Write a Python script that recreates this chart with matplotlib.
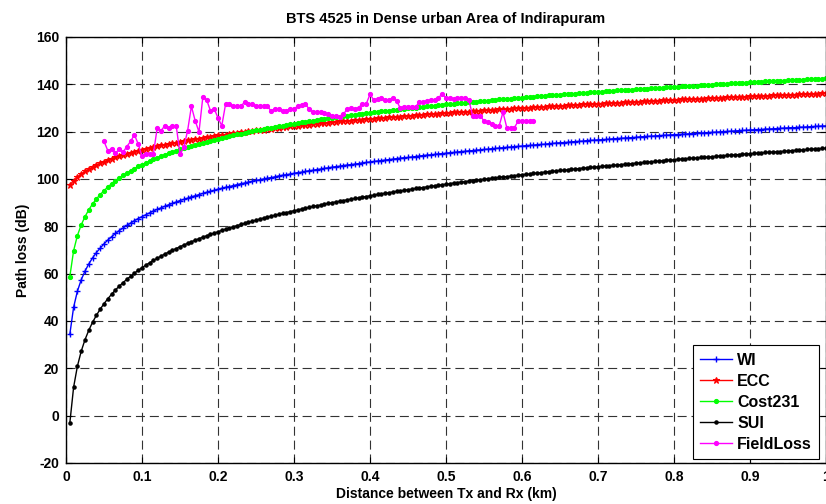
import numpy as np
import matplotlib
matplotlib.use("Agg")
import matplotlib.pyplot as plt

# Path loss curves, one value every 0.005 km (0.005 .. 1.0 km)
wi_loss = [
    34.3, 45.8, 52.6, 57.4, 61.1, 64.1, 66.7, 68.9, 70.8, 72.6,
    74.2, 75.6, 77.0, 78.2, 79.3, 80.4, 81.4, 82.4, 83.3, 84.1,
    84.9, 85.7, 86.5, 87.2, 87.8, 88.5, 89.1, 89.7, 90.3, 90.9,
    91.4, 91.9, 92.5, 92.9, 93.4, 93.9, 94.4, 94.8, 95.2, 95.7,
    96.1, 96.5, 96.8, 97.2, 97.6, 98.0, 98.3, 98.7, 99.0, 99.4,
    99.7, 100.0, 100.3, 100.6, 100.9, 101.3, 101.6, 101.8, 102.1, 102.4,
    102.7, 102.9, 103.2, 103.5, 103.7, 104.0, 104.2, 104.5, 104.7, 105.0,
    105.2, 105.4, 105.7, 105.9, 106.1, 106.3, 106.5, 106.8, 107.0, 107.2,
    107.4, 107.6, 107.8, 108.0, 108.2, 108.4, 108.6, 108.8, 109.0, 109.1,
    109.3, 109.5, 109.7, 109.9, 110.1, 110.2, 110.4, 110.6, 110.7, 110.9,
    111.1, 111.2, 111.4, 111.6, 111.7, 111.9, 112.0, 112.2, 112.3, 112.5,
    112.6, 112.8, 112.9, 113.1, 113.2, 113.4, 113.5, 113.7, 113.8, 113.9,
    114.1, 114.2, 114.3, 114.5, 114.6, 114.7, 114.9, 115.0, 115.2, 115.3,
    115.4, 115.5, 115.7, 115.8, 115.9, 116.0, 116.2, 116.3, 116.4, 116.5,
    116.6, 116.7, 116.8, 117.0, 117.1, 117.2, 117.3, 117.4, 117.5, 117.6,
    117.8, 117.9, 118.0, 118.1, 118.2, 118.3, 118.4, 118.5, 118.6, 118.7,
    118.8, 118.9, 119.0, 119.1, 119.2, 119.3, 119.4, 119.5, 119.6, 119.7,
    119.8, 119.9, 120.0, 120.1, 120.2, 120.3, 120.4, 120.5, 120.6, 120.7,
    120.8, 120.9, 120.9, 121.1, 121.1, 121.2, 121.3, 121.4, 121.5, 121.6,
    121.7, 121.7, 121.9, 121.9, 122.0, 122.1, 122.2, 122.3, 122.4, 122.4,
]

ecc_loss = [
    97.5, 99.3, 100.8, 102.1, 103.2, 104.1, 105.0, 105.8, 106.6, 107.3,
    107.9, 108.5, 109.1, 109.6, 110.1, 110.6, 111.0, 111.5, 111.9, 112.3,
    112.7, 113.1, 113.5, 113.8, 114.2, 114.5, 114.8, 115.1, 115.4, 115.7,
    116.0, 116.3, 116.6, 116.9, 117.1, 117.4, 117.6, 117.9, 118.1, 118.4,
    118.6, 118.8, 119.1, 119.3, 119.5, 119.7, 119.9, 120.1, 120.3, 120.5,
    120.7, 120.9, 121.1, 121.3, 121.5, 121.7, 121.8, 122.0, 122.2, 122.4,
    122.5, 122.7, 122.9, 123.0, 123.2, 123.4, 123.5, 123.7, 123.8, 124.0,
    124.1, 124.3, 124.4, 124.6, 124.7, 124.9, 125.0, 125.1, 125.3, 125.4,
    125.5, 125.7, 125.8, 125.9, 126.1, 126.2, 126.3, 126.4, 126.6, 126.7,
    126.8, 126.9, 127.1, 127.2, 127.3, 127.4, 127.5, 127.6, 127.8, 127.9,
    128.0, 128.1, 128.2, 128.3, 128.4, 128.5, 128.6, 128.8, 128.9, 129.0,
    129.1, 129.2, 129.3, 129.4, 129.5, 129.6, 129.7, 129.8, 129.9, 130.0,
    130.1, 130.2, 130.3, 130.4, 130.5, 130.5, 130.7, 130.7, 130.8, 130.9,
    131.0, 131.1, 131.2, 131.3, 131.4, 131.5, 131.6, 131.6, 131.7, 131.8,
    131.9, 132.0, 132.1, 132.1, 132.2, 132.3, 132.4, 132.5, 132.5, 132.6,
    132.7, 132.8, 132.9, 133.0, 133.0, 133.1, 133.2, 133.3, 133.3, 133.4,
    133.5, 133.6, 133.7, 133.7, 133.8, 133.9, 134.0, 134.0, 134.1, 134.2,
    134.3, 134.3, 134.4, 134.5, 134.5, 134.6, 134.7, 134.7, 134.8, 134.9,
    135.0, 135.0, 135.1, 135.2, 135.2, 135.3, 135.4, 135.4, 135.5, 135.6,
    135.6, 135.7, 135.8, 135.8, 135.9, 136.0, 136.0, 136.1, 136.2, 136.2,
]

cost231_loss = [
    58.7, 69.7, 76.1, 80.6, 84.1, 87.0, 89.5, 91.6, 93.4, 95.1,
    96.6, 98.0, 99.3, 100.4, 101.5, 102.5, 103.5, 104.4, 105.3, 106.1,
    106.8, 107.6, 108.3, 108.9, 109.6, 110.2, 110.8, 111.4, 111.9, 112.5,
    113.0, 113.5, 114.0, 114.4, 114.9, 115.3, 115.8, 116.2, 116.6, 117.0,
    117.4, 117.8, 118.1, 118.5, 118.9, 119.2, 119.6, 119.9, 120.2, 120.5,
    120.9, 121.2, 121.5, 121.7, 122.0, 122.3, 122.6, 122.9, 123.2, 123.4,
    123.7, 123.9, 124.2, 124.4, 124.7, 125.0, 125.2, 125.4, 125.6, 125.9,
    126.1, 126.3, 126.5, 126.7, 127.0, 127.2, 127.4, 127.6, 127.8, 128.0,
    128.1, 128.4, 128.6, 128.7, 128.9, 129.1, 129.3, 129.5, 129.6, 129.8,
    130.0, 130.2, 130.3, 130.5, 130.7, 130.8, 131.0, 131.2, 131.4, 131.5,
    131.6, 131.8, 132.0, 132.1, 132.3, 132.4, 132.6, 132.7, 132.9, 133.0,
    133.1, 133.3, 133.4, 133.6, 133.7, 133.8, 134.0, 134.1, 134.3, 134.4,
    134.5, 134.6, 134.8, 134.9, 135.0, 135.1, 135.3, 135.4, 135.5, 135.7,
    135.8, 135.9, 136.0, 136.1, 136.2, 136.4, 136.5, 136.6, 136.7, 136.8,
    136.9, 137.0, 137.1, 137.3, 137.4, 137.5, 137.6, 137.7, 137.8, 137.9,
    138.0, 138.1, 138.2, 138.3, 138.4, 138.5, 138.6, 138.7, 138.8, 138.9,
    139.0, 139.1, 139.2, 139.3, 139.4, 139.5, 139.6, 139.7, 139.8, 139.9,
    140.0, 140.1, 140.2, 140.3, 140.4, 140.5, 140.5, 140.6, 140.7, 140.8,
    140.9, 141.0, 141.0, 141.2, 141.2, 141.3, 141.4, 141.5, 141.6, 141.7,
    141.7, 141.8, 141.9, 142.0, 142.1, 142.1, 142.2, 142.3, 142.4, 142.5,
]

sui_loss = [
    -3.2, 12.0, 20.9, 27.2, 32.1, 36.1, 39.5, 42.4, 45.0, 47.3,
    49.4, 51.3, 53.1, 54.7, 56.2, 57.6, 58.9, 60.2, 61.4, 62.5,
    63.6, 64.6, 65.6, 66.5, 67.4, 68.3, 69.1, 69.9, 70.6, 71.4,
    72.1, 72.8, 73.5, 74.1, 74.8, 75.4, 76.0, 76.6, 77.1, 77.7,
    78.3, 78.8, 79.3, 79.8, 80.3, 80.8, 81.2, 81.7, 82.1, 82.6,
    83.1, 83.5, 83.9, 84.3, 84.7, 85.1, 85.5, 85.8, 86.2, 86.6,
    86.9, 87.3, 87.6, 88.0, 88.4, 88.7, 89.0, 89.4, 89.7, 90.0,
    90.3, 90.6, 90.9, 91.2, 91.5, 91.8, 92.0, 92.3, 92.6, 92.9,
    93.2, 93.5, 93.7, 94.0, 94.2, 94.5, 94.8, 95.0, 95.2, 95.5,
    95.7, 96.0, 96.2, 96.4, 96.7, 96.9, 97.1, 97.3, 97.6, 97.8,
    98.0, 98.3, 98.5, 98.7, 98.9, 99.1, 99.3, 99.5, 99.7, 99.9,
    100.1, 100.3, 100.5, 100.7, 100.9, 101.0, 101.2, 101.4, 101.6, 101.8,
    102.0, 102.1, 102.4, 102.5, 102.7, 102.9, 103.1, 103.2, 103.4, 103.6,
    103.7, 103.9, 104.1, 104.2, 104.4, 104.6, 104.7, 104.9, 105.0, 105.2,
    105.3, 105.5, 105.6, 105.8, 105.9, 106.1, 106.2, 106.4, 106.5, 106.7,
    106.8, 107.0, 107.1, 107.3, 107.4, 107.6, 107.7, 107.9, 108.0, 108.1,
    108.3, 108.4, 108.5, 108.7, 108.8, 108.9, 109.1, 109.2, 109.3, 109.4,
    109.6, 109.7, 109.8, 110.0, 110.1, 110.2, 110.3, 110.4, 110.6, 110.7,
    110.8, 110.9, 111.0, 111.2, 111.3, 111.4, 111.5, 111.6, 111.7, 111.9,
    112.0, 112.1, 112.2, 112.3, 112.5, 112.6, 112.7, 112.8, 112.9, 113.0,
]

# Measured field loss, every 0.005 km from 0.05 km
field_loss = [
    115.9, 112.0, 112.8, 111.0, 112.5, 111.3, 113.7, 115.9, 118.7, 114.8,
    109.6, 110.7, 110.7, 110.7, 121.5, 120.4, 122.5, 121.5, 122.5, 122.5,
    110.6, 113.4, 120.4, 130.7, 124.6, 119.9, 134.5, 133.5, 128.9, 129.7,
    125.8, 122.5, 131.7, 131.7, 130.7, 130.7, 130.7, 132.5, 131.8, 131.8,
    130.7, 130.7, 130.7, 130.7, 128.7, 129.7, 129.7, 128.7, 128.7, 129.7,
    129.7, 130.7, 131.2, 131.7, 129.5, 128.4, 128.5, 128.1, 127.8, 127.3,
    126.8, 126.5, 126.0, 127.5, 129.4, 129.8, 129.5, 130.2, 131.7, 131.7,
    135.8, 133.4, 133.8, 134.1, 133.4, 133.4, 134.4, 133.0, 129.9, 130.6,
    130.6, 130.6, 130.6, 132.4, 132.4, 133.0, 133.4, 133.4, 134.4, 135.8,
    134.4, 134.1, 133.8, 134.4, 134.4, 134.4, 133.4, 126.8, 126.8, 126.8,
    124.5, 123.9, 123.1, 122.5, 122.5, 128.2, 121.7, 121.7, 121.7, 124.5,
    124.5, 124.5, 124.5, 124.5,
]

x_ticks = [0, 0.1, 0.2, 0.3, 0.4, 0.5, 0.6, 0.7, 0.8, 0.9, 1.0]
x_tick_labels = ["0", "0.1", "0.2", "0.3", "0.4", "0.5", "0.6", "0.7", "0.8", "0.9", "1"]
y_ticks = [-20, 0, 20, 40, 60, 80, 100, 120, 140, 160]

step_km = 0.005
distance_km = step_km * np.arange(1, len(wi_loss) + 1)
field_distance_km = 0.05 + step_km * np.arange(len(field_loss))

plt.rcParams["font.family"] = ["Liberation Sans", "DejaVu Sans"]
plt.rcParams["font.weight"] = "bold"
plt.rcParams["lines.scale_dashes"] = False
plt.rcParams["axes.unicode_minus"] = False

fig = plt.figure(figsize=(8.26, 5.04), dpi=100)
ax = fig.add_axes([66 / 826, 41 / 504, 760 / 826, 426 / 504])

ax.plot(distance_km, wi_loss, color="b", marker="+", ms=5, mew=1, lw=1, label="WI")
ax.plot(distance_km, ecc_loss, color="r", marker="*", ms=5, mew=0.8, lw=1, label="ECC")
ax.plot(distance_km, cost231_loss, color=(0, 1, 0), marker=".", ms=5.5, lw=1, label="Cost231")
ax.plot(distance_km, sui_loss, color="k", marker=".", ms=4.5, lw=1, label="SUI")
ax.plot(field_distance_km, field_loss, color=(1, 0, 1), marker=".", ms=5.5, lw=1,
        label="FieldLoss")

ax.set_xlim(0, 1)
ax.set_ylim(-20, 160)
ax.set_xticks(x_ticks)
ax.set_xticklabels(x_tick_labels)
ax.set_yticks(y_ticks)
ax.tick_params(direction="in", top=True, right=True, length=4, width=0.8,
               labelsize=10, pad=5)
ax.grid(True, color="0.2", linestyle=(0, (6.5, 3.5)), linewidth=0.8)
for sp in ax.spines.values():
    sp.set_linewidth(1)

ax.set_title("BTS 4525 in Dense urban Area of Indirapuram", fontsize=10.5,
             fontweight="bold", pad=10)
ax.set_xlabel("Distance between Tx and Rx (km)", fontsize=10, fontweight="bold", labelpad=2)
ax.set_ylabel("Path loss (dB)", fontsize=10, fontweight="bold", labelpad=4)

leg = ax.legend(loc="lower right", bbox_to_anchor=(0.991, 0.0094), borderaxespad=0,
                fontsize=11.5, fancybox=False, edgecolor="k", framealpha=1,
                handlelength=2.0, handletextpad=0.3, labelspacing=0.38, borderpad=0.45)
leg.get_frame().set_linewidth(0.8)

fig.savefig("out.png", dpi=100)
